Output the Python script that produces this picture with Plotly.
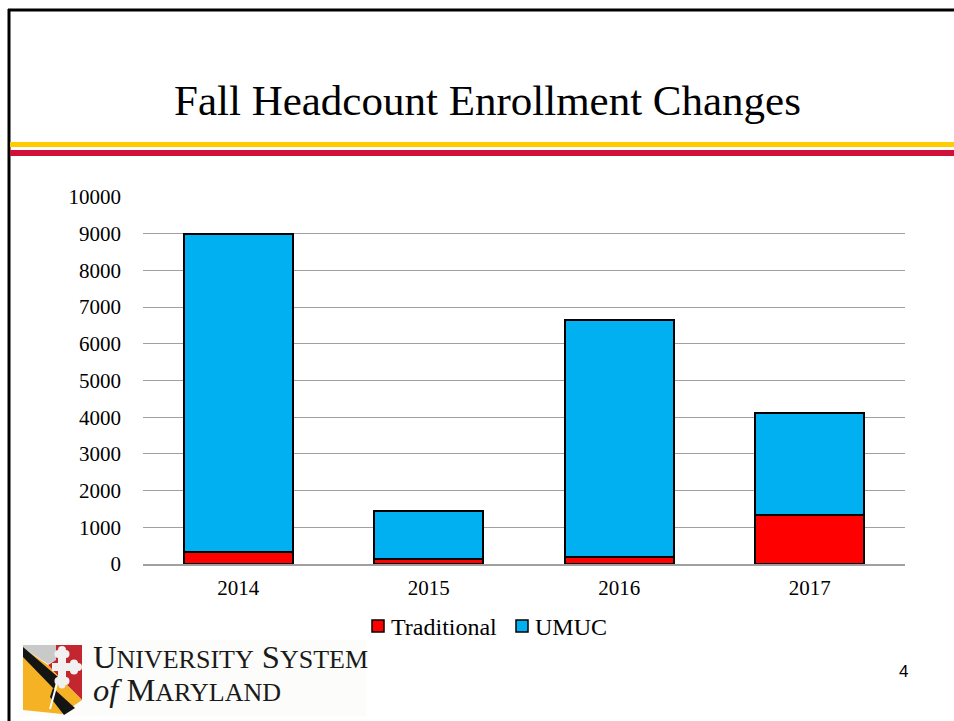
import plotly.graph_objects as go

# Fall headcount enrollment change by year, split by segment
years = ["2014", "2015", "2016", "2017"]
traditional = [320, 140, 200, 1330]
umuc = [8670, 1300, 6450, 2780]
series_names = ["Traditional", "UMUC"]

y_ticks = list(range(0, 10001, 1000))
y_tick_text = [str(v) for v in y_ticks]

RED, BLUE = "#FF0000", "#00B0F0"

W, H = 954, 721
ML, MR, MT, MB = 143, 49, 197, 157
PW, PH = W - ML - MR, H - MT - MB


def fx(px):
    return (px - ML) / PW


def fy(py):
    return (H - MB - py) / PH


def poly(points, color):
    d = "M " + " L ".join(f"{fx(x):.5f},{fy(y):.5f}" for x, y in points) + " Z"
    return dict(type="path", xref="paper", yref="paper", path=d,
                fillcolor=color, line=dict(width=0), layer="above")


def disc(cx, cy, r, color):
    return dict(type="circle", xref="paper", yref="paper",
                x0=fx(cx - r), x1=fx(cx + r), y0=fy(cy + r), y1=fy(cy - r),
                fillcolor=color, line=dict(width=0), layer="above")


serif = "Liberation Serif, Times New Roman, serif"

fig = go.Figure()
fig.add_trace(go.Bar(x=years, y=traditional, name=series_names[0], showlegend=False,
                     marker=dict(color=RED, line=dict(color="black", width=2))))
fig.add_trace(go.Bar(x=years, y=umuc, name=series_names[1], showlegend=False,
                     marker=dict(color=BLUE, line=dict(color="black", width=2))))

shapes = [
    # slide frame
    dict(type="line", xref="paper", yref="paper", x0=fx(8), x1=fx(954), y0=fy(10), y1=fy(10),
         line=dict(color="black", width=3)),
    dict(type="line", xref="paper", yref="paper", x0=fx(9), x1=fx(9), y0=fy(9), y1=fy(721),
         line=dict(color="black", width=3)),
    # header stripes
    dict(type="rect", xref="paper", yref="paper", x0=fx(10), x1=fx(954), y0=fy(147), y1=fy(142),
         fillcolor="#FFCC00", line=dict(width=0)),
    dict(type="rect", xref="paper", yref="paper", x0=fx(10), x1=fx(954), y0=fy(156), y1=fy(150),
         fillcolor="#D0103A", line=dict(width=0)),
    # logo background
    dict(type="rect", xref="paper", yref="paper", x0=fx(20), x1=fx(366), y0=fy(716), y1=fy(640),
         fillcolor="#FCFCFB", line=dict(width=0), layer="below"),
]

# emblem
CROSS = "#F1F1F1"
shapes += [
    poly([(23, 645), (56, 645), (56, 660), (48, 664), (23, 648)], "#C9C9C9"),
    poly([(56, 645), (82, 645), (82, 700), (59, 677), (48, 665), (56, 660)], "#C3262E"),
    poly([(23, 648), (48, 665), (59, 677), (82, 700), (62, 714), (23, 710)], "#F4B224"),
    poly([(23, 647), (58, 677), (54, 689), (23, 657)], "#141414"),
    poly([(53, 688), (75, 708), (64, 715), (50, 697)], "#141414"),
    dict(type="line", xref="paper", yref="paper", x0=fx(59), x1=fx(50), y0=fy(676), y1=fy(709),
         line=dict(color="white", width=2), layer="above"),
    # botonee cross in the red quarter
    poly([(58, 654), (66, 654), (66, 681), (58, 681)], CROSS),
    poly([(52, 663), (74, 663), (74, 671), (52, 671)], CROSS),
    disc(58.5, 654, 4, CROSS), disc(65.5, 654, 4, CROSS), disc(62, 650, 4, CROSS),
    disc(74, 663.5, 4, CROSS), disc(74, 670.5, 4, CROSS), disc(78, 667, 4, CROSS),
    disc(58.5, 681, 4, CROSS), disc(65.5, 681, 4, CROSS), disc(62, 685, 3.5, CROSS),
]

# legend keys
legend_keys = [(372, RED), (516, BLUE)]
for left, color in legend_keys:
    shapes.append(dict(type="rect", xref="paper", yref="paper",
                       x0=fx(left), x1=fx(left + 12), y0=fy(632), y1=fy(620),
                       fillcolor=color, line=dict(color="black", width=1.5)))

annotations = [
    dict(text="Fall Headcount Enrollment Changes", x=fx(487), y=fy(101), xref="paper", yref="paper",
         showarrow=False, xanchor="center", yanchor="middle",
         font=dict(family=serif, size=43, color="black")),
    dict(text="4", x=fx(903), y=fy(671), xref="paper", yref="paper", showarrow=False,
         xanchor="center", yanchor="middle",
         font=dict(family="Liberation Sans, Arial, sans-serif", size=17, color="black")),
    dict(text="U<span style='font-size:26px'>NIVERSITY</span> S<span style='font-size:26px'>YSTEM</span>",
         x=fx(91), y=fy(657), xref="paper", yref="paper", showarrow=False,
         xanchor="left", yanchor="middle",
         font=dict(family=serif, size=32.5, color="#1a1a1a")),
    dict(text="<i>of</i> M<span style='font-size:26px'>ARYLAND</span>",
         x=fx(91), y=fy(690), xref="paper", yref="paper", showarrow=False,
         xanchor="left", yanchor="middle",
         font=dict(family=serif, size=32.5, color="#1a1a1a")),
]
for (left, _), name in zip(legend_keys, series_names):
    annotations.append(dict(text=name, x=fx(left + 17), y=fy(627), xref="paper", yref="paper",
                            showarrow=False, xanchor="left", yanchor="middle",
                            font=dict(family=serif, size=24, color="black")))

fig.update_layout(
    width=W, height=H,
    margin=dict(l=ML, r=MR, t=MT, b=MB, pad=0),
    paper_bgcolor="white", plot_bgcolor="white",
    barmode="stack", bargap=0.428,
    showlegend=False,
    font=dict(family=serif, size=21, color="black"),
    shapes=shapes,
    annotations=annotations,
)
fig.update_xaxes(type="category", showline=True, linecolor="#a0a0a0", linewidth=1.5,
                 showgrid=False, ticks="", tickfont=dict(family=serif, size=21),
                 ticklabelstandoff=4)
fig.update_yaxes(range=[0, 10000], tickvals=y_ticks, ticktext=y_tick_text, showgrid=True,
                 gridcolor="#a0a0a0", gridwidth=1.3, zeroline=False, showline=False, ticks="",
                 tickfont=dict(family=serif, size=21), ticklabelstandoff=21)

fig.write_html("out.html")
